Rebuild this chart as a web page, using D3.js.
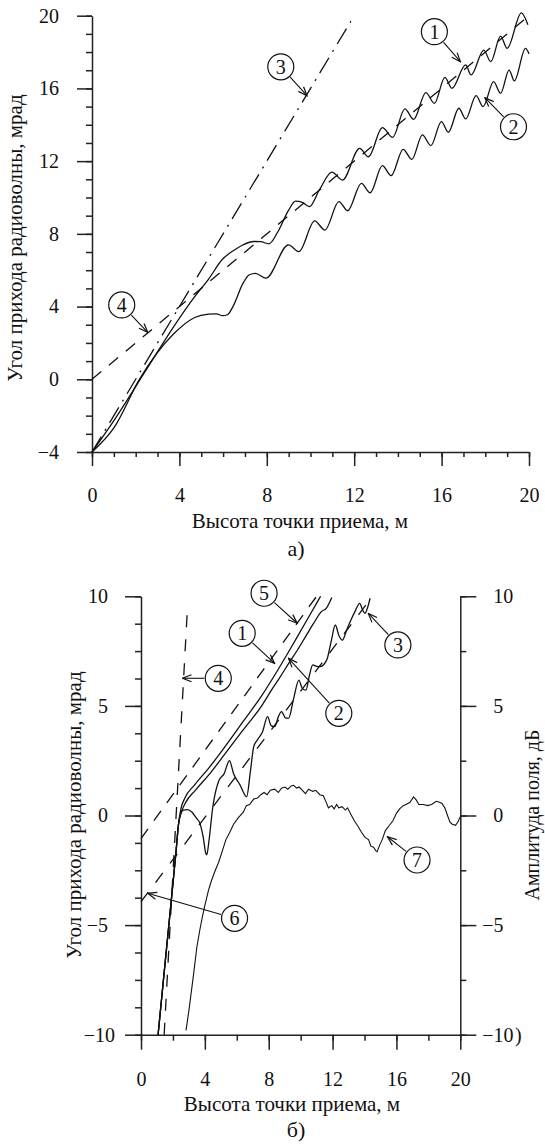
<!DOCTYPE html>
<html>
<head>
<meta charset="utf-8">
<script src="https://cdn.jsdelivr.net/npm/d3@7"></script>
<style>
  body { margin: 0; background: #fff; }
  svg text { font-family: "Liberation Serif", "Times New Roman", Times, "DejaVu Serif", serif; }
</style>
</head>
<body>
<svg id="chart" width="545" height="1144"></svg>
<script>
// ---------- panel а) : angle of arrival vs receiver height ----------
const ticksA_x = [0, 4, 8, 12, 16, 20];
const ticksA_y = [-4, 0, 4, 8, 12, 16, 20];

const curveA1 = [[0,-4],[1.04,-2.2],[2.47,0.5],[3.74,2.9],[4.7,4.55],[5.33,5.5],[5.97,6.6],[6.5,7.1],[6.92,7.4],
  [7.4,7.58],[7.72,7.57],[8.1,7.45],[8.5,8.1],[9.0,9.3],[9.31,9.8],[9.6,9.75],[9.95,9.5],[10.4,10.4],[10.98,11.39],
  [11.46,10.96],[12.25,12.7],[12.65,12.24],[13.29,13.84],[13.76,13.31],[14.32,14.87],[14.72,14.3],[15.28,15.77],
  [15.67,15.18],[16.15,16.61],[16.47,16.0],[17.1,17.29],[17.35,16.74],[17.93,18.11],[18.25,17.47],[18.7,18.88],
  [19.0,18.2],[19.65,20.16],[19.95,19.5]];
const curveA2 = [[0,-4],[1.04,-2.6],[2.15,-0.05],[3.74,2.5],[4.7,3.4],[5.33,3.58],[5.7,3.6],[5.97,3.5],[6.2,3.55],
  [6.45,4.0],[6.92,5.3],[7.2,5.75],[7.48,5.83],[7.96,5.56],[8.99,7.39],[9.47,7.02],[10.19,8.71],[10.66,8.21],
  [11.3,9.77],[11.7,9.27],[12.33,10.78],[12.73,10.26],[13.29,11.75],[13.69,11.2],[14.24,12.65],[14.64,12.1],
  [15.12,13.44],[15.51,12.85],[15.99,14.17],[16.31,13.59],[16.79,14.91],[17.1,14.32],[17.58,15.6],[17.9,15.0],
  [18.38,16.37],[18.7,15.73],[19.09,17.01],[19.33,16.41],[19.84,18.2],[20,17.9]];
const lineA3 = [[0,-4],[11.85,19.7]];
const lineA4 = [[0,0],[19.9,19.9]];

// labels: [text, circle x, circle y, arrow target x, arrow target y] (data units)
const notesA = [
  ['1', 15.67, 19.12, 16.86, 17.47],
  ['2', 19.29, 13.89, 17.98, 15.49],
  ['3', 8.64, 17.19, 9.84, 15.6],
  ['4', 1.36, 4.09, 2.55, 2.58]
];

// ---------- panel б) ----------
const ticksB_x = [0, 4, 8, 12, 16, 20];
const ticksB_y = [-10, -5, 0, 5, 10];

const curveB1 = [[1.07,-10],[1.5,-6.8],[1.9,-3.85],[2.2,-1.6],[2.35,-0.4],[2.5,0.3],[2.75,0.8],[3.36,1.4],
  [4.23,2.15],[5.32,3.2],[6.41,4.3],[7.5,5.4],[8.58,6.65],[9.67,8.0],[10.54,9.1],[11.25,10]];
const curveB2 = [[1.07,-10],[1.5,-6.8],[1.9,-3.85],[2.2,-1.6],[2.35,-0.4],[2.55,0.2],[2.8,0.6],[3.4,1.15],
  [4.3,1.9],[5.4,2.95],[6.5,4.0],[7.0,4.45],[7.6,5.05],[8.2,5.75],[8.7,6.3],[9.3,7.0],[9.8,7.55],[10.3,8.15],
  [10.8,8.75],[11.3,9.3],[11.6,9.45],[11.95,9.95]];
const curveB3 = [[1.07,-10],[1.5,-6.8],[1.9,-3.85],[2.2,-1.6],[2.35,-0.4],[2.5,0.1],[2.65,0.25],[2.92,0.27],
  [3.2,0.15],[3.45,-0.1],[3.69,-0.36],[3.9,-1.0],[4.05,-1.7],[4.12,-1.8],[4.25,-1.2],[4.5,0.4],[4.88,1.6],
  [5.2,1.9],[5.54,2.5],[5.8,1.9],[6.2,1.4],[6.62,0.86],[6.85,2.0],[7.06,3.14],[7.28,3.44],[7.6,3.8],[7.93,4.51],
  [8.15,4.1],[8.37,4.05],[8.6,4.5],[8.8,4.74],[9.05,4.45],[9.24,4.43],[9.55,5.3],[9.89,6.18],[10.1,5.8],
  [10.33,5.72],[10.55,6.4],[10.76,6.87],[11.0,6.8],[11.2,6.79],[11.63,7.09],[11.9,7.9],[12.17,8.69],[12.4,8.2],
  [12.61,8.0],[12.9,8.5],[13.15,8.92],[13.4,9.3],[13.7,9.68],[13.87,9.4],[14.03,9.22],[14.2,9.5],[14.35,9.91]];
const lineB4 = [[1.45,-10],[2.92,9.6]];
const lineB5 = [[0,-1.05],[11.0,10]];
const lineB6 = [[0,-3.93],[14.5,10]];
// field amplitude, dB (right axis)
const curveB7 = [[2.82,-9.8],[3.0,-8.9],[3.3,-7.2],[3.5,-6.0],[3.69,-5.2],[3.85,-4.6],[4.0,-4.1],[4.23,-3.4],
  [4.4,-3.0],[4.6,-2.6],[4.88,-2.1],[5.1,-1.6],[5.32,-1.1],[5.54,-0.8],[5.8,-0.4],[6.1,-0.1],[6.41,0.15],
  [6.6,0.45],[6.8,0.5],[7.06,0.75],[7.3,0.8],[7.5,0.95],[7.71,1.05],[7.9,0.95],[8.1,1.15],[8.37,1.2],[8.6,1.05],
  [8.8,1.25],[9.02,1.3],[9.2,1.2],[9.4,1.35],[9.56,1.38],[9.75,1.25],[9.9,1.3],[10.11,1.15],[10.3,1.0],
  [10.5,1.2],[10.76,1.1],[10.95,1.15],[11.2,0.95],[11.42,0.9],[11.6,0.6],[11.74,0.35],[11.95,0.45],[12.1,0.3],
  [12.25,0.5],[12.39,0.35],[12.6,0.4],[12.8,0.25],[12.94,0.35],[13.15,0.05],[13.37,-0.25],[13.6,-0.5],
  [13.8,-0.75],[14.03,-1.0],[14.25,-1.1],[14.4,-1.4],[14.57,-1.45],[14.7,-1.6],[14.79,-1.65],[14.95,-1.35],
  [15.11,-1.1],[15.3,-0.7],[15.5,-0.5],[15.77,-0.25],[16.0,0.1],[16.2,0.3],[16.42,0.45],[16.6,0.5],[16.85,0.6],
  [17.07,0.85],[17.25,0.7],[17.4,0.5],[17.7,0.5],[17.95,0.45],[18.2,0.5],[18.49,0.65],[18.7,0.6],[18.85,0.55],
  [19.03,0.35],[19.2,0.0],[19.35,-0.3],[19.5,-0.4],[19.7,-0.45],[19.85,-0.3],[20.0,-0.05]];

const notesB = [
  ['5', 7.71, 10.14, 9.78, 8.77],
  ['1', 6.34, 8.31, 8.37, 6.94],
  ['2', 12.39, 4.66, 9.24, 7.17],
  ['3', 16.09, 7.78, 14.24, 9.22],
  ['4', 4.84, 6.26, 2.6, 6.26],
  ['7', 17.29, -2.03, 15.44, -0.97],
  ['6', 5.86, -4.69, 0.42, -3.55]
];

const svg = d3.select('#chart');
const ink = '#111';
const fmt = d => d < 0 ? '\u2212' + Math.abs(d) : String(d);

svg.append('defs').append('marker')
  .attr('id', 'arrow')
  .attr('viewBox', '-1 -5 11 10')
  .attr('refX', 9).attr('refY', 0)
  .attr('markerWidth', 11).attr('markerHeight', 10)
  .attr('markerUnits', 'userSpaceOnUse')
  .attr('orient', 'auto')
  .append('path')
  .attr('d', 'M0,-3.5 L9,0 L0,3.5')
  .attr('fill', 'none').attr('stroke', ink).attr('stroke-width', 1.2);

// one axis = minor ticks (no labels) + major ticks with labels
function drawAxis(axisFn, scale, majors, minors, tx, ty, majorLen, minorLen, pad) {
  const gm = svg.append('g').attr('transform', `translate(${tx},${ty})`)
    .call(axisFn(scale).tickValues(minors).tickSize(minorLen).tickSizeOuter(0).tickFormat(''));
  gm.select('.domain').remove();
  gm.selectAll('line').attr('stroke', '#222').attr('stroke-width', 1.5);

  const g = svg.append('g').attr('transform', `translate(${tx},${ty})`)
    .call(axisFn(scale).tickValues(majors).tickSize(majorLen).tickSizeOuter(0).tickPadding(pad).tickFormat(fmt));
  g.attr('font-size', 20).attr('font-family', null);
  g.selectAll('line, path').attr('stroke', '#222').attr('stroke-width', 1.5);
  g.selectAll('text').attr('fill', ink);
  return g;
}

function addText(x, y, str, size, anchor, transform) {
  const t = svg.append('text')
    .attr('font-size', size)
    .attr('fill', ink)
    .attr('text-anchor', anchor || 'middle')
    .text(str);
  if (transform) t.attr('transform', transform);
  else t.attr('x', x).attr('y', y);
  return t;
}

function drawCircleNote(xs, ys, note) {
  const [label, cx, cy, tx, ty] = note;
  const px = xs(cx), py = ys(cy), qx = xs(tx), qy = ys(ty);
  const r = 13;
  const len = Math.hypot(qx - px, qy - py);
  const ux = (qx - px) / len, uy = (qy - py) / len;
  svg.append('circle')
    .attr('cx', px).attr('cy', py).attr('r', r)
    .attr('fill', 'none').attr('stroke', ink).attr('stroke-width', 1.2);
  addText(px, py + 7, label, 20);
  svg.append('line')
    .attr('x1', px + ux * (r + 1)).attr('y1', py + uy * (r + 1))
    .attr('x2', qx).attr('y2', qy)
    .attr('stroke', ink).attr('stroke-width', 1.1)
    .attr('marker-end', 'url(#arrow)');
}

function drawPath(xs, ys, pts, curve, dash, width) {
  const line = d3.line().x(d => xs(d[0])).y(d => ys(d[1])).curve(curve);
  svg.append('path')
    .attr('d', line(pts))
    .attr('fill', 'none')
    .attr('stroke', ink)
    .attr('stroke-width', width || 1.3)
    .attr('stroke-dasharray', dash || null);
}

// ===== panel а) =====
const xA = d3.scaleLinear().domain([0, 20]).range([92, 529]);
const yA = d3.scaleLinear().domain([-4, 20]).range([452, 15.7]);

drawAxis(d3.axisLeft, yA, ticksA_y, d3.range(-4, 20.1, 1), 92, 0, 15, 6, 18);
drawAxis(d3.axisBottom, xA, ticksA_x, d3.range(0, 20.1, 1), 0, 452, 14, 5, 22);

drawPath(xA, yA, lineA3, d3.curveLinear, '18,7,2,7');
drawPath(xA, yA, lineA4, d3.curveLinear, '12,10');
drawPath(xA, yA, curveA1, d3.curveMonotoneX);
drawPath(xA, yA, curveA2, d3.curveMonotoneX);
notesA.forEach(n => drawCircleNote(xA, yA, n));

addText(0, 0, 'Угол прихода радиоволны, мрад', 21, 'middle', 'translate(22,238) rotate(-90)');
addText(300, 528, 'Высота точки приема, м', 21);
addText(296, 556, 'а)', 22);

// ===== panel б) =====
const xB = d3.scaleLinear().domain([0, 20]).range([141, 460.3]);
const yB = d3.scaleLinear().domain([-10, 10]).range([1034.7, 596.3]);
const yR = d3.scaleLinear().domain([-10, 10]).range([1034.7, 596.3]);

const gLeftB = drawAxis(d3.axisLeft, yB, ticksB_y, d3.range(-10, 10.1, 1.25), 141, 0, 16, 6, 17);
gLeftB.selectAll('.tick text').filter(d => d === -10).attr('dx', 7);
drawAxis(d3.axisBottom, xB, ticksB_x, d3.range(0, 20.1, 2), 0, 1034.7, 15, 6, 22);
const gRightB = drawAxis(d3.axisRight, yR, ticksB_y, d3.range(-10, 10.1, 2.5), 460.3, 0, 16, 6, 17);
gRightB.selectAll('.tick text').filter(d => d < 0).attr('dx', -11);

drawPath(xB, yB, lineB4, d3.curveLinear, '12,12');
drawPath(xB, yB, lineB5, d3.curveLinear, '12,10');
drawPath(xB, yB, lineB6, d3.curveLinear, '12,12');
drawPath(xB, yB, curveB1, d3.curveMonotoneX);
drawPath(xB, yB, curveB2, d3.curveMonotoneX);
drawPath(xB, yB, curveB3, d3.curveMonotoneX);
drawPath(xB, yR, curveB7, d3.curveLinear, null, 1.1);
notesB.forEach(n => drawCircleNote(xB, yB, n));

addText(0, 0, 'Угол прихода радиоволны, мрад', 21, 'middle', 'translate(81,815) rotate(-90)');
addText(0, 0, 'Амплитуда поля, дБ', 20, 'middle', 'translate(539,815) rotate(-90)');
addText(515, 1042, ')', 20, 'start');
addText(292, 1111, 'Высота точки приема, м', 21);
addText(296, 1137, 'б)', 22);
</script>
</body>
</html>
